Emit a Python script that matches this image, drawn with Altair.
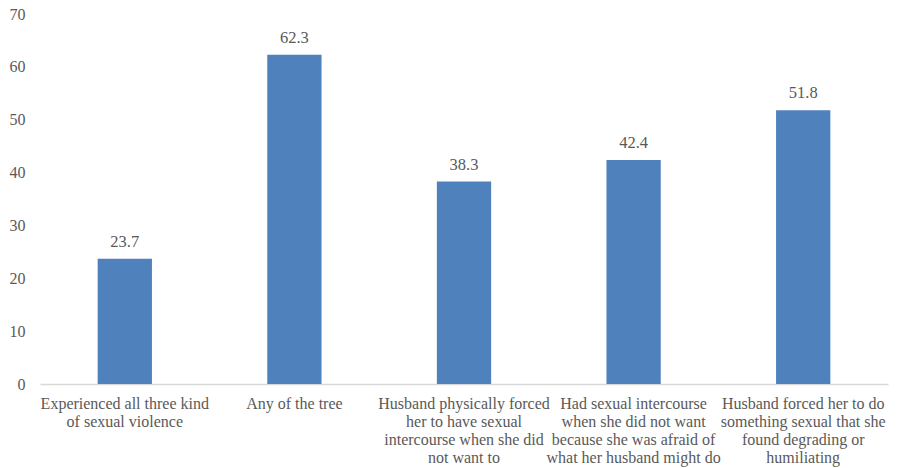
import altair as alt
import pandas as pd

# Category labels ("\n" marks where each axis label wraps)
categories = [
    "Experienced all three kind\nof sexual violence",
    "Any of the tree",
    "Husband physically forced\nher to have sexual\nintercourse when she did\nnot want to",
    "Had sexual intercourse\nwhen she did not want\nbecause she was afraid of\nwhat her husband might do",
    "Husband forced her to do\nsomething sexual that she\nfound degrading or\nhumiliating",
]
values = [23.7, 62.3, 38.3, 42.4, 51.8]

df = pd.DataFrame({"category": categories, "value": values})

FONT = "Liberation Serif"
TEXT = "#595959"

x = alt.X(
    "category:N",
    sort=categories,
    title=None,
    scale=alt.Scale(paddingInner=0.68, paddingOuter=0.34),
    axis=alt.Axis(
        labelAngle=0,
        labelExpr="split(datum.label, '\\n')",
        labelFont=FONT,
        labelFontSize=16,
        labelColor=TEXT,
        labelLineHeight=18,
        labelPadding=11,
        labelBaseline="top",
        labelLimit=300,
        ticks=False,
        grid=False,
        domainColor="#D9D9D9",
        domainWidth=1.5,
    ),
)

y = alt.Y(
    "value:Q",
    title=None,
    scale=alt.Scale(domain=[0, 70]),
    axis=alt.Axis(
        values=[0, 10, 20, 30, 40, 50, 60, 70],
        labelFont=FONT,
        labelFontSize=16,
        labelColor=TEXT,
        labelPadding=15,
        ticks=False,
        domain=False,
        grid=False,
    ),
)

bars = alt.Chart(df).mark_bar(color="#4F81BD").encode(x=x, y=y)

labels = alt.Chart(df).mark_text(
    font=FONT, fontSize=16.5, color=TEXT, baseline="bottom", dy=-9
).encode(x=alt.X("category:N", sort=categories), y="value:Q", text=alt.Text("value:Q", format=".1f"))

chart = (
    (bars + labels)
    .properties(
        width=848,
        height=370,
        autosize=alt.AutoSizeParams(type="none"),
        padding={"left": 40, "top": 14, "right": 10, "bottom": 84},
        view=alt.ViewBackground(stroke="transparent", strokeWidth=0),
    )
    .configure_view(stroke="transparent", strokeWidth=0)
    .configure(background="white")
)

chart.save("out.html", embed_options={"renderer": "svg", "actions": False})
